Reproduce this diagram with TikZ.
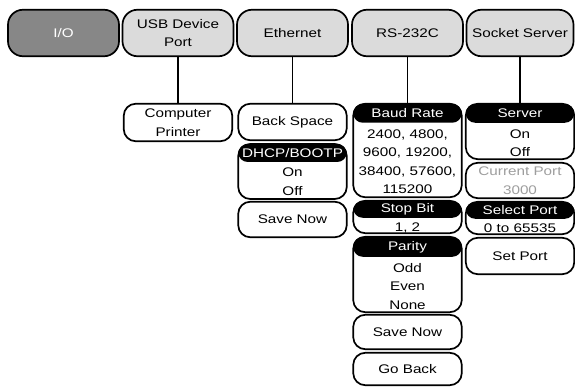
\documentclass[tikz,border=0pt]{standalone}
\usepackage{fontspec}
\setmainfont{Liberation Sans}[FakeStretch=1.22]
\usetikzlibrary{positioning}

\begin{document}
\begin{tikzpicture}[x=1pt,y=-1pt, line width=1.7pt,
  every node/.style={font=\fontsize{12.5}{18.5}\selectfont, align=center},
  mainbox/.style={draw, rounded corners=15pt, fill=black!14, minimum width=111pt, minimum height=46.5pt, inner sep=0pt},
  subbox/.style={draw, rounded corners=12pt, fill=white, minimum width=108.5pt, inner sep=0pt},
  headbar/.style={anchor=north, fill=black, text=white, rounded corners=9.5pt, minimum width=108.5pt, minimum height=19pt, inner sep=0pt},
  bodytxt/.style={inner sep=1pt}]
\useasboundingbox (0,0) rectangle (575,387);
% top row
\node[mainbox, fill=black!47, text=white] (io) at (63.5,33) {I/O};
\node[mainbox] (usb) at (178,33) {USB Device\\Port};
\node[mainbox] (eth) at (292.5,33) {Ethernet};
\node[mainbox] (rs) at (407.5,33) {RS-232C};
\node[mainbox, minimum width=107pt] (sock) at (520,33) {Socket Server};
% USB device port
\node[subbox, minimum height=37.5pt] (comp) at (178,122.5) {Computer\\Printer};
\draw (usb) -- (comp);
% Ethernet
\node[subbox, minimum height=36.5pt] (back) at (292.5,122) {Back Space};
\node[subbox, minimum height=55pt] (dhcp) at (292.5,171.5) {};
\node[headbar, minimum height=18pt] (dhcph) at (dhcp.north) {DHCP/BOOTP};
\node[bodytxt, below=3.5pt of dhcph] (dhcpv) {On\\Off};
\node[subbox, minimum height=35.5pt] (esave) at (292.5,219.5) {Save Now};
\draw (eth) -- (back);
% RS-232C
\node[subbox, minimum height=93.5pt] (baud) at (407.5,150.5) {};
\node[headbar] (baudh) at (baud.north) {Baud Rate};
\node[bodytxt, below=4pt of baudh] (baudv) {2400, 4800,\\9600, 19200,\\38400, 57600,\\115200};
\node[subbox, minimum height=32.4pt] (stop) at (407.5,217) {};
\node[headbar, minimum height=17pt] (stoph) at (stop.north) {Stop Bit};
\node[bodytxt, below=2.5pt of stoph] (stopv) {1, 2};
\node[subbox, minimum height=75.4pt] (par) at (407.5,274.5) {};
\node[headbar, minimum height=20pt] (parh) at (par.north) {Parity};
\node[bodytxt, below=3.5pt of parh] (parv) {Odd\\Even\\None};
\node[subbox, minimum height=34.4pt] (rsave) at (407.5,332) {Save Now};
\node[subbox, minimum height=32.4pt] (goback) at (407.5,369) {Go Back};
\draw (rs) -- (baud);
% Socket server
\node[subbox, minimum height=55.4pt] (srv) at (520,131.5) {};
\node[headbar] (srvh) at (srv.north) {Server};
\node[bodytxt, below=4pt of srvh] (srvv) {On\\Off};
\node[subbox, minimum height=35.4pt, text=black!38] (cport) at (520,180.5) {Current Port\\3000};
\node[subbox, minimum height=32.4pt] (sel) at (520,218) {};
\node[headbar, minimum height=17pt] (selh) at (sel.north) {Select Port};
\node[bodytxt, below=2.5pt of selh] (selv) {0 to 65535};
\node[subbox, minimum height=36.4pt] (setp) at (520,256) {Set Port};
\draw (sock) -- (srv);
\end{tikzpicture}
\end{document}
